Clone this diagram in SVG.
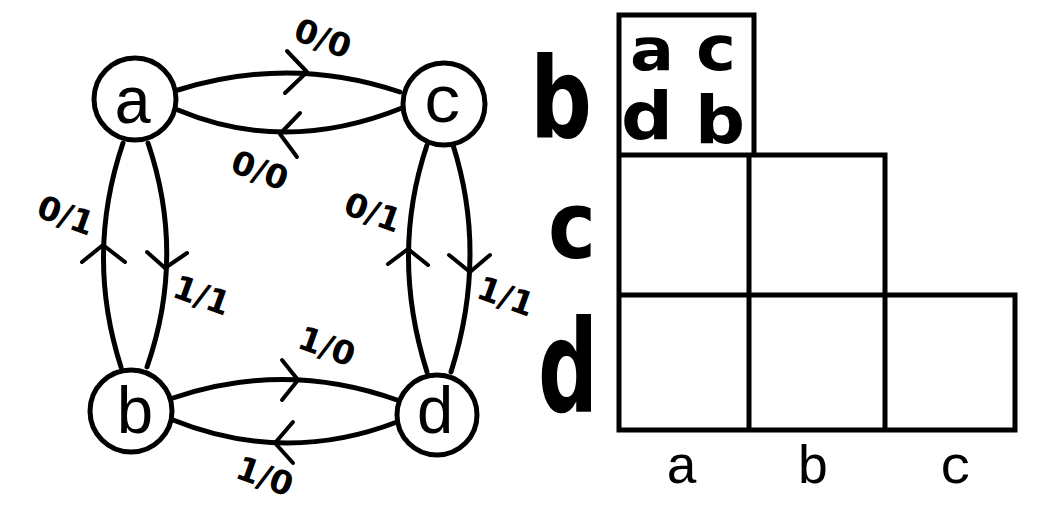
<svg xmlns="http://www.w3.org/2000/svg" width="1042" height="505" viewBox="0 0 1042 505">
<style>
.node{fill:none;stroke:#000;stroke-width:5}
.nl{font-family:"Liberation Mono",monospace;font-size:66px;fill:#000;text-anchor:middle}
.edge{fill:none;stroke:#000;stroke-width:5;stroke-linecap:round;stroke-linejoin:round}
.arr{fill:none;stroke:#000;stroke-width:4;stroke-linecap:round;stroke-linejoin:round}
.el{font-family:"DejaVu Sans",sans-serif;font-weight:bold;font-size:33px;fill:#000;text-anchor:middle}
.grid{fill:none;stroke:#000;stroke-width:5;stroke-linecap:square}
.hw{font-family:"DejaVu Sans",sans-serif;font-weight:bold;fill:#000}
.cl{font-family:"Liberation Mono",monospace;font-size:54px;fill:#000;text-anchor:middle}
</style>
<rect width="1042" height="505" fill="#fff"/>
<g id="connectors">
  <path class="edge" d="M178,90 Q290,55 400,92"/>
  <path class="arr" d="M287,51 L307,72 L285,93"/>
  <path class="edge" d="M178,110 Q285,155 402,108"/>
  <path class="arr" d="M300,113 L280,134 L297,157"/>
  <path class="edge" d="M123,143 Q85,255 121,367"/>
  <path class="arr" d="M82,262 L103,245 L125,262"/>
  <path class="edge" d="M148,143 Q186,255 147,367"/>
  <path class="arr" d="M147,252 L165,268 L187,253"/>
  <path class="edge" d="M427,145 Q390,255 427,372"/>
  <path class="arr" d="M388,264 L408,249 L428,265"/>
  <path class="edge" d="M453,145 Q488,255 451,372"/>
  <path class="arr" d="M449,255 L470,272 L490,255"/>
  <path class="edge" d="M173,398 Q285,360 397,400"/>
  <path class="arr" d="M282,360 L298,380 L282,400"/>
  <path class="edge" d="M173,420 Q285,465 397,422"/>
  <path class="arr" d="M293,422 L275,443 L293,463"/>
  <text class="el" transform="rotate(20 323 38)" x="323" y="50">0/0</text>
  <text class="el" transform="rotate(20 260 170)" x="260" y="182">0/0</text>
  <text class="el" transform="rotate(20 66 215)" x="66" y="227">0/1</text>
  <text class="el" transform="rotate(20 202 295)" x="202" y="307">1/1</text>
  <text class="el" transform="rotate(20 373 212)" x="373" y="224">0/1</text>
  <text class="el" transform="rotate(20 506 296)" x="506" y="308">1/1</text>
  <text class="el" transform="rotate(20 327 346)" x="327" y="358">1/0</text>
  <text class="el" transform="rotate(20 265 476)" x="265" y="488">1/0</text>
</g>
<g id="node-a"><circle class="node" cx="135" cy="99" r="41"/><text class="nl" x="133" y="123">a</text></g>
<g id="node-c"><circle class="node" cx="444" cy="104" r="41"/><text class="nl" x="443" y="122">c</text></g>
<g id="node-b"><circle class="node" cx="131" cy="411" r="41"/><text class="nl" x="135" y="433">b</text></g>
<g id="node-d"><circle class="node" cx="437" cy="415" r="40"/><text class="nl" x="435" y="433">d</text></g>
<g id="table">
  <path class="grid" d="M619,15 L754,15 L754,155 M619,15 L619,430 L1015,430 L1015,295 L619,295 M619,155 L885,155 L885,430 M749,155 L749,430"/>
  <text class="hw" x="530" y="137" font-size="112" textLength="62" lengthAdjust="spacingAndGlyphs">b</text>
  <text class="hw" x="548" y="258" font-size="92" textLength="48" lengthAdjust="spacingAndGlyphs">c</text>
  <text class="hw" x="538" y="412" font-size="128" textLength="60" lengthAdjust="spacingAndGlyphs">d</text>
  <text class="hw" x="630" y="70" font-size="58" textLength="44" lengthAdjust="spacingAndGlyphs">a</text>
  <text class="hw" x="696" y="70" font-size="62" textLength="40" lengthAdjust="spacingAndGlyphs">c</text>
  <text class="hw" x="621" y="139" font-size="66" textLength="52" lengthAdjust="spacingAndGlyphs">d</text>
  <text class="hw" x="695" y="143" font-size="66" textLength="50" lengthAdjust="spacingAndGlyphs">b</text>
  <text class="cl" x="682" y="483">a</text>
  <text class="cl" x="813" y="483">b</text>
  <text class="cl" x="956" y="483">c</text>
</g>
</svg>
